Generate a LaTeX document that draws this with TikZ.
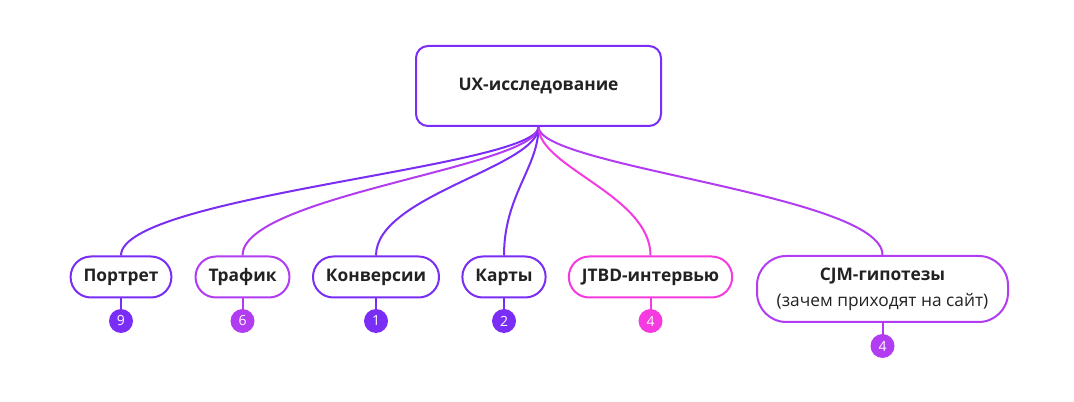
\documentclass[tikz,border=0pt]{standalone}
\usepackage{fontspec}
\setmainfont{Open Sans}
\usetikzlibrary{positioning}
\definecolor{violetline}{HTML}{7A2EF5}
\definecolor{purpleline}{HTML}{B23CF2}
\definecolor{pinkline}{HTML}{F53BE0}
\definecolor{textdark}{HTML}{222222}
\tikzset{root/.style = {draw=violetline, line width=1.5pt, rounded corners=9pt,
                        fill=white, minimum width=183.75pt, minimum height=60pt,
                        font=\bfseries\fontsize{13}{16}\selectfont, text=textdark}}
\tikzset{leaf/.style = {draw=#1, line width=1.5pt, rounded corners=15.3pt,
                        fill=white, minimum height=30.75pt, inner xsep=9.75pt,
                        font=\bfseries\fontsize{13}{19.5}\selectfont, text=textdark}}
\tikzset{badge/.style = {circle, fill=#1, minimum size=18pt, inner sep=0pt,
                         text=white, font=\fontsize{10.5}{12}\selectfont}}
\tikzset{link/.style = {draw=#1, line width=1.5pt}}

\begin{document}
\begin{tikzpicture}[x=0.75pt, y=-0.75pt]
      \useasboundingbox (0, 0) rectangle (1074, 402);

      \node [root] (ux) at (538.5, 86) {UX-исследование};

      \foreach \id/\x/\col/\txt/\num in {port/121/violetline/Портрет/9,
                                         traf/242.5/purpleline/Трафик/6,
                                         conv/376/violetline/Конверсии/1,
                                         maps/504/violetline/Карты/2,
                                         jtbd/650.5/pinkline/JTBD-интервью/4} {
        \node [leaf=\col] (\id) at (\x, 277) {\txt};
        \node [badge=\col] (\id-n) at (\x, 321) {\num};
        \draw [link=\col] (\id) -- (\id-n);
        \draw [link=\col] (ux.south) .. controls +(0, 40) and +(0, -60) .. (\id.north);
      }

      \node [leaf=purpleline, rounded corners=22pt, minimum width=188.25pt,
             minimum height=49.5pt, align=center] (cjm) at (882.5, 289)
            {CJM-гипотезы\\{\mdseries(зачем приходят на сайт)}};
      \node [badge=purpleline] (cjm-n) at (882.5, 346) {4};
      \draw [link=purpleline] (cjm) -- (cjm-n);
      \draw [link=purpleline] (ux.south) .. controls +(0, 40) and +(0, -60) .. (cjm.north);
    \end{tikzpicture}
\end{document}
